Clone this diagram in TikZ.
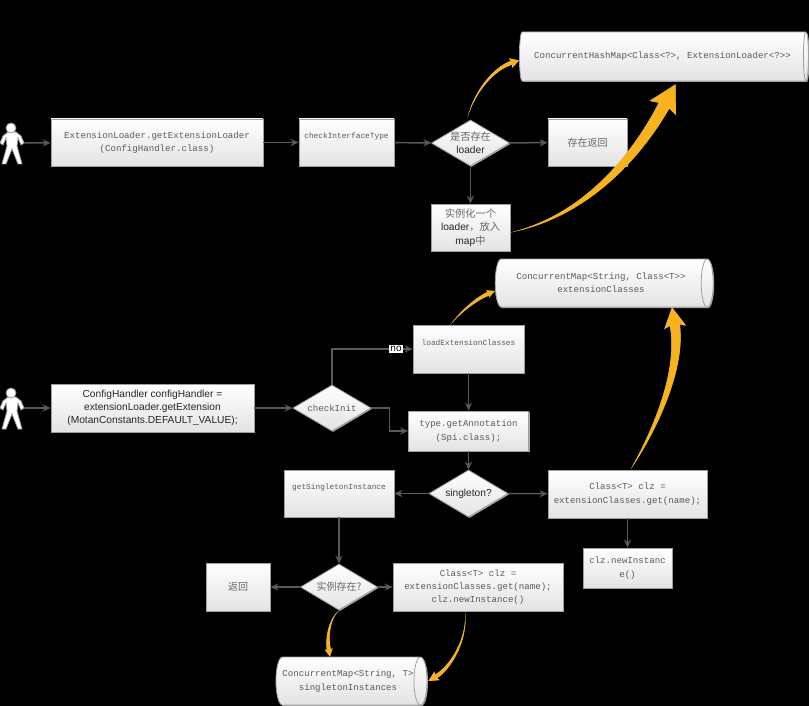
\documentclass[tikz,border=0pt]{standalone}
\usepackage{fontspec}
\setmainfont{Liberation Sans}
\newfontfamily\codefont{Liberation Mono}
\newfontfamily\cjk{Noto Sans CJK SC}
\usetikzlibrary{shapes.geometric,shadows,calc,arrows.meta}
\definecolor{linegray}{HTML}{595959}
\definecolor{gold}{HTML}{F7B21E}
\tikzset{
	paneltone/.style={draw=gray!75, line width=0.8pt, top color=white, bottom color=gray!22, general shadow={shadow xshift=1pt, shadow yshift=-1pt, fill=gray!70}, align=center, inner sep=0pt},
	codebox/.style={paneltone, rectangle, font=\codefont\fontsize{9.1}{13.3}\selectfont, text=black!65},
	smallcode/.style={font=\codefont\fontsize{7.8}{13.3}\selectfont},
	cjkcode/.style={font=\cjk\fontsize{10}{13}\selectfont, text=black!60},
	sansbox/.style={paneltone, rectangle, font=\fontsize{10.2}{13.3}\selectfont, text=black!85},
	decision/.style={paneltone, diamond, aspect=1.7, inner sep=-6pt, font=\fontsize{10.2}{13.3}\selectfont, text=black!85},
	store/.style={paneltone, cylinder, shape aspect=0.6, font=\codefont\fontsize{9.1}{13.3}\selectfont, text=black!65},
	flow/.style={-{Stealth[length=8pt,width=7pt]}, draw=linegray, line width=1.5pt},
	tag/.style={fill=white, inner sep=1pt, font=\fontsize{10}{11}\selectfont},
	actor/.pic={
		\draw[draw=gray!80, fill=white, line width=0.8pt] (-4,-11) -- (4,-11) -- (9,-7) -- (12,0) -- (9,2) -- (6,-5) -- (5,3) -- (10,21) -- (6,21) -- (0,6) -- (-6,21) -- (-10,21) -- (-5,3) -- (-6,-5) -- (-9,2) -- (-12,0) -- (-9,-7) -- cycle;
		\draw[draw=gray!80, fill=white, line width=0.8pt] (-1,-15) circle (5);
		\coordinate (-hand) at (12,0);
	}
}
\newcommand{\goldarrow}[7]{
	\coordinate (ga-s) at (#1);
	\coordinate (ga-e) at (#4);
	\coordinate (ga-b) at ($(ga-e)!#7pt!(#3)$);
	\coordinate (ga-w) at ($(ga-e)!1.12*#7pt!(#3)$);
	\coordinate (ga-l) at ($(ga-b)!#5pt!90:(ga-e)$);
	\coordinate (ga-r) at ($(ga-b)!#5pt!-90:(ga-e)$);
	\coordinate (ga-p) at ($(ga-w)!#6pt!90:(ga-e)$);
	\coordinate (ga-q) at ($(ga-w)!#6pt!-90:(ga-e)$);
	\coordinate (ga-cl) at ($(#3)!0.8*#5pt!90:(ga-e)$);
	\coordinate (ga-cr) at ($(#3)!0.8*#5pt!-90:(ga-e)$);
	\coordinate (ga-dl) at ($(#2)!0.4*#5pt!90:(#3)$);
	\coordinate (ga-dr) at ($(#2)!0.4*#5pt!-90:(#3)$);
	\fill[gray!75, shift={(1.5,1)}] (ga-s) .. controls (ga-dl) and (ga-cl) .. (ga-l) -- (ga-p) -- (ga-e) -- (ga-q) -- (ga-r) .. controls (ga-cr) and (ga-dr) .. (ga-s) -- cycle;
	\fill[gold] (ga-s) .. controls (ga-dl) and (ga-cl) .. (ga-l) -- (ga-p) -- (ga-e) -- (ga-q) -- (ga-r) .. controls (ga-cr) and (ga-dr) .. (ga-s) -- cycle;
}

\begin{document}
\begin{tikzpicture}[x=1pt,y=-1pt]
	\fill[black] (0,0) rectangle (809,706);
	\useasboundingbox (0,0) rectangle (809,706);

	\pic (usera) at (12,143) {actor};
	\node[codebox, minimum width=212, minimum height=47] (extloader) at (157,142.5) {ExtensionLoader.getExtensionLoader\\(ConfigHandler.class)};
	\node[codebox, smallcode, minimum width=95, minimum height=47] (checktype) at (346.5,142.5) {checkInterfaceType\\\phantom{x}};
	\node[decision, minimum width=78, minimum height=46] (exists) at (470.5,143) {{\cjk\color{black!60}是否存在}\\loader};
	\node[codebox, cjkcode, minimum width=79, minimum height=47] (existsret) at (587.5,142.5) {存在返回};
	\node[sansbox, minimum width=79, minimum height=47] (newloader) at (470.5,227.5) {{\cjk\color{black!60}实例化一个}\\loader{\cjk\color{black!60}，放入}\\map{\cjk\color{black!60}中}};
	\node[store, minimum height=289, minimum width=49] (loadermap) at (662.5,56.5) {ConcurrentHashMap<Class<?>, ExtensionLoader<?>>};

	\pic (userb) at (12,408) {actor};
	\node[sansbox, minimum width=203, minimum height=48] (confighandler) at (152.5,408) {ConfigHandler configHandler =\\extensionLoader.getExtension\\(MotanConstants.DEFAULT\_VALUE);};
	\node[decision, minimum width=78, minimum height=46, font=\codefont\fontsize{9.1}{13.3}\selectfont, text=black!65] (checkinit) at (332,408) {checkInit};
	\node[codebox, smallcode, minimum width=111, minimum height=48] (loadext) at (468.5,349) {loadExtensionClasses\\\phantom{x}};
	\node[codebox, minimum width=120, minimum height=40] (typeanno) at (468.5,431) {type.getAnnotation\\(Spi.class);};
	\node[decision, minimum width=79, minimum height=47] (singleton) at (468.5,493.5) {singleton?};
	\node[codebox, minimum width=159, minimum height=48] (clzget) at (627.5,494) {Class<T> clz =\\extensionClasses.get(name);};
	\node[codebox, minimum width=89, minimum height=40] (newinst) at (627.5,568) {clz.newInstanc\\e()};
	\node[store, minimum height=218, minimum width=48] (classmap) at (601,283) {ConcurrentMap<String, Class<T>>\\extensionClasses};
	\node[codebox, smallcode, minimum width=110, minimum height=47] (singleinst) at (339,493.5) {getSingletonInstance\\\phantom{x}};
	\node[decision, cjkcode, minimum width=77, minimum height=46] (instexists) at (339,587) {实例存在?};
	\node[codebox, cjkcode, minimum width=64, minimum height=48] (ret) at (238,587) {返回};
	\node[codebox, minimum width=170, minimum height=48] (clznew) at (478,587) {Class<T> clz =\\extensionClasses.get(name);\\clz.newInstance()};
	\node[store, minimum height=147, minimum width=48] (instmap) at (348,681) {ConcurrentMap<String, T>\\singletonInstances};

	\draw[flow] (usera-hand) -- (extloader);
	\draw[flow] (extloader) -- (checktype);
	\draw[flow] (checktype) -- (exists);
	\draw[flow] (exists) -- (existsret);
	\draw[flow] (exists) -- (newloader);
	\draw[flow] (userb-hand) -- (confighandler);
	\draw[flow] (confighandler) -- (checkinit);
	\draw[flow] (checkinit.north) |- (loadext.west);
	\node[tag] (nolabel) at (396,349) {no};
	\draw[flow] (checkinit.east) -- ++(18,0) |- (typeanno.west);
	\draw[flow] (loadext) -- (typeanno);
	\draw[flow] (typeanno) -- (singleton);
	\draw[flow] (singleton) -- (clzget);
	\draw[flow] (singleton) -- (singleinst);
	\draw[flow] (clzget) -- (newinst);
	\draw[flow] (singleinst) -- (instexists);
	\draw[flow] (instexists) -- (ret);
	\draw[flow] (instexists) -- (clznew);

	\goldarrow{$(exists.north)+(-3,-2)$}{475,90}{495,68}{$(loadermap.west)+(0,4)$}{2}{5}{8}
	\goldarrow{$(newloader.east)+(0,5)$}{590,215}{640,150}{$(loadermap.south)+(13,3)$}{6}{15}{24}
	\goldarrow{$(loadext.north)+(-18,0)$}{462,310}{478,298}{$(classmap.west)+(0,8)$}{2}{4}{7}
	\goldarrow{$(clzget.north)+(3,0)$}{655,430}{682,370}{$(classmap.south)+(71,0)$}{5}{11}{18}
	\goldarrow{$(instexists.south)+(0,0)$}{328,620}{327,640}{$(instmap.north)+(-18,0)$}{2}{4}{7}
	\goldarrow{$(clznew.south)+(-13,0)$}{468,640}{450,668}{$(instmap.east)+(1,0)$}{2}{5}{9}
\end{tikzpicture}
\end{document}
